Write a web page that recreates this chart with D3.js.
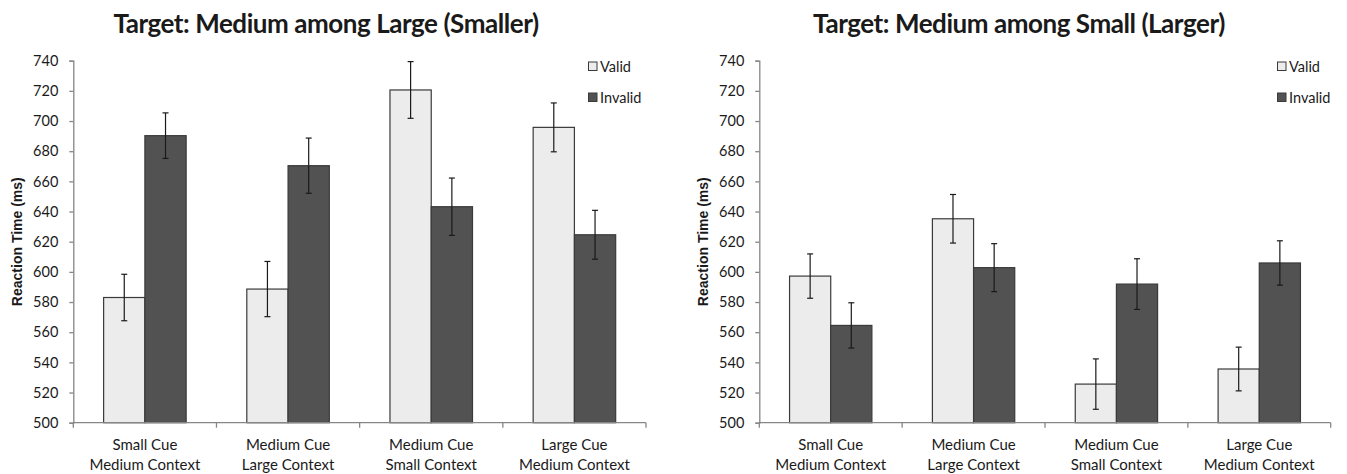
<!DOCTYPE html>
<html>
<head>
<meta charset="utf-8">
<script src="https://cdn.jsdelivr.net/npm/d3@7"></script>
<style>
  html, body { margin: 0; padding: 0; background: #fff; }
  svg { display: block; }
  text { font-family: Lato, "Open Sans", sans-serif; fill: #1a1a1a; }
</style>
</head>
<body>
<script>
// ---------------- DATA ----------------
const categories = [
  ["Small Cue", "Medium Context"],
  ["Medium Cue", "Large Context"],
  ["Medium Cue", "Small Context"],
  ["Large Cue", "Medium Context"]
];
const seriesNames = ["Valid", "Invalid"];
const yTicks = [500, 520, 540, 560, 580, 600, 620, 640, 660, 680, 700, 720, 740];
const yTitle = "Reaction Time (ms)";

const leftTitle = "Target: Medium among Large (Smaller)";
const leftValid = [583.0, 588.6, 720.6, 695.8];
const leftValidErr = [15.4, 18.3, 18.8, 16.2];
const leftInvalid = [690.3, 670.4, 643.2, 624.6];
const leftInvalidErr = [15.1, 18.3, 19.0, 16.2];

const rightTitle = "Target: Medium among Small (Larger)";
const rightValid = [597.2, 635.2, 525.6, 535.6];
const rightValidErr = [14.7, 16.1, 16.7, 14.5];
const rightInvalid = [564.5, 602.8, 591.9, 605.9];
const rightInvalidErr = [15.0, 15.9, 16.8, 14.7];

// ---------------- STYLE / LAYOUT ----------------
const W = 1347, H = 474;
const colors = { Valid: "#ececec", Invalid: "#525252" };
const svg = d3.select("body").append("svg").attr("width", W).attr("height", H);

const panels = [
  { title: leftTitle, valid: leftValid, validErr: leftValidErr, invalid: leftInvalid, invalidErr: leftInvalidErr,
    x0: 73.3, x1: 646, titleX: 326, yTitleX: 17, legendX: 588 },
  { title: rightTitle, valid: rightValid, validErr: rightValidErr, invalid: rightInvalid, invalidErr: rightInvalidErr,
    x0: 759.3, x1: 1330.7, titleX: 1019, yTitleX: 703, legendX: 1277 }
];
const yTop = 60.7, yBot = 422.7;

panels.forEach(p => {
  const g = svg.append("g");
  const y = d3.scaleLinear().domain([500, 740]).range([yBot, yTop]);
  const x = d3.scaleBand().domain(d3.range(categories.length)).range([p.x0, p.x1]).padding(0);
  const xs = d3.scaleBand().domain(seriesNames).range([0, x.bandwidth()]).paddingInner(0).paddingOuter(0.735);

  // Title
  g.append("text").attr("x", p.titleX).attr("y", 33).attr("text-anchor", "middle")
    .style("font-size", "26px").style("font-weight", "700").style("letter-spacing", "-0.45px")
    .style("fill", "#1a1a1a").text(p.title);

  // Y axis
  const yAxis = g.append("g").attr("transform", `translate(${p.x0},0)`)
    .call(d3.axisLeft(y).tickValues(yTicks).tickSize(4).tickPadding(11).tickFormat(d3.format("d")));
  yAxis.select(".domain").attr("stroke", "#868686").attr("stroke-width", 1.3);
  yAxis.selectAll(".tick line").attr("stroke", "#868686").attr("stroke-width", 1.3);
  yAxis.selectAll(".tick text").style("font-size", "14.5px").style("font-family", "Lato, sans-serif").attr("fill", "#1a1a1a");

  // Y title
  g.append("text").attr("transform", `translate(${p.yTitleX},${(yTop + yBot) / 2}) rotate(-90)`)
    .attr("text-anchor", "middle").attr("dominant-baseline", "central")
    .style("font-family", "'Liberation Sans', Arial, sans-serif").style("font-weight", "700").style("font-size", "14px")
    .text(yTitle);

  // Bars
  const data = [];
  categories.forEach((c, i) => {
    data.push({ i, s: "Valid", v: p.valid[i], e: p.validErr[i] });
    data.push({ i, s: "Invalid", v: p.invalid[i], e: p.invalidErr[i] });
  });
  g.selectAll("rect.bar").data(data).enter().append("rect").attr("class", "bar")
    .attr("x", d => x(d.i) + xs(d.s))
    .attr("y", d => y(d.v))
    .attr("width", xs.bandwidth())
    .attr("height", d => y(500) - y(d.v))
    .attr("fill", d => colors[d.s])
    .attr("stroke", "#3a3a3a").attr("stroke-width", 1.2);

  // X axis
  const xAxisG = g.append("g").attr("transform", `translate(0,${yBot})`);
  xAxisG.append("line").attr("x1", p.x0).attr("x2", p.x1).attr("y1", 0).attr("y2", 0)
    .attr("stroke", "#868686").attr("stroke-width", 1.3);
  const bounds = categories.map((c, i) => x(i)).concat([x(categories.length - 1) + x.bandwidth()]);
  xAxisG.selectAll("line.tk").data(bounds).enter().append("line").attr("class", "tk")
    .attr("x1", d => d).attr("x2", d => d).attr("y1", 0).attr("y2", 5)
    .attr("stroke", "#868686").attr("stroke-width", 1.3);
  categories.forEach((c, i) => {
    const cx = x(i) + x.bandwidth() / 2;
    c.forEach((line, li) => {
      g.append("text").attr("x", cx).attr("y", yBot + 27 + li * 20).attr("text-anchor", "middle")
        .style("font-size", "15px").text(line);
    });
  });

  // Error bars
  const eg = g.selectAll("g.err").data(data).enter().append("g").attr("class", "err");
  const cxOf = d => x(d.i) + xs(d.s) + xs.bandwidth() / 2;
  eg.append("line").attr("x1", cxOf).attr("x2", cxOf).attr("y1", d => y(d.v + d.e)).attr("y2", d => y(d.v - d.e))
    .attr("stroke", "#1a1a1a").attr("stroke-width", 1.2);
  eg.append("line").attr("x1", d => cxOf(d) - 3).attr("x2", d => cxOf(d) + 3).attr("y1", d => y(d.v + d.e)).attr("y2", d => y(d.v + d.e))
    .attr("stroke", "#1a1a1a").attr("stroke-width", 1.2);
  eg.append("line").attr("x1", d => cxOf(d) - 3).attr("x2", d => cxOf(d) + 3).attr("y1", d => y(d.v - d.e)).attr("y2", d => y(d.v - d.e))
    .attr("stroke", "#1a1a1a").attr("stroke-width", 1.2);

  // Legend
  const lg = g.append("g").attr("transform", `translate(${p.legendX},0)`);
  seriesNames.forEach((s, k) => {
    const yy = 62 + k * 31;
    lg.append("rect").attr("x", 0.5).attr("y", yy).attr("width", 8.5).attr("height", 8.5)
      .attr("fill", colors[s]).attr("stroke", "#3a3a3a").attr("stroke-width", 1);
    lg.append("text").attr("x", 12).attr("y", yy + 9.5).style("font-size", "14.5px").text(s);
  });
});
</script>
</body>
</html>
